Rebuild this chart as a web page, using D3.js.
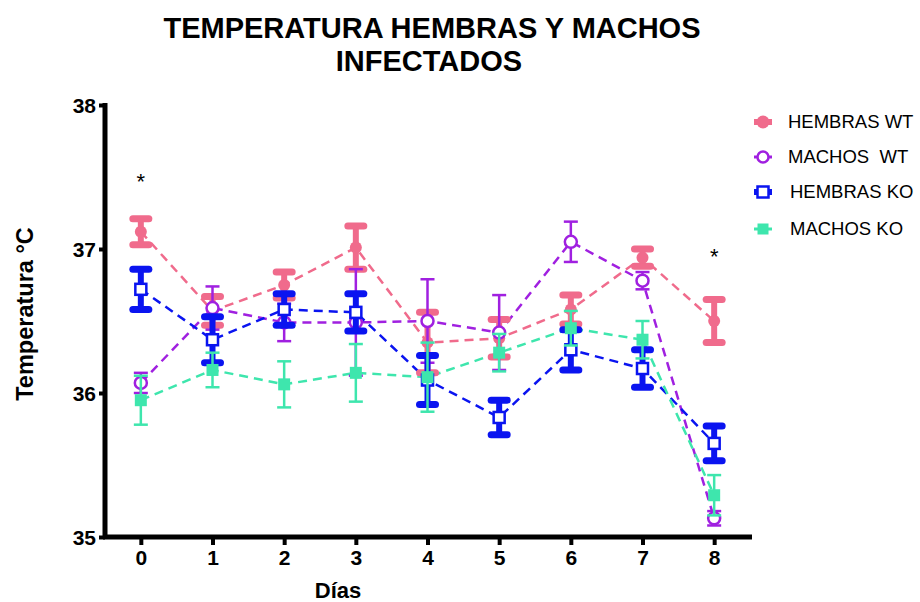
<!DOCTYPE html>
<html>
<head>
<meta charset="utf-8">
<script src="https://cdn.jsdelivr.net/npm/d3@7/dist/d3.min.js"></script>
<style>
body{margin:0;background:#fff;}
text{font-family:Arial,"Liberation Sans",sans-serif;}
</style>
</head>
<body>
<div id="chart"></div>
<script>
var svgW=920,svgH=602;
var dias=[0,1,2,3,4,5,6,7,8];
var yTicks=[35,36,37,38];
var seriesNames=["HEMBRAS WT","MACHOS  WT","HEMBRAS KO","MACHOS KO"];
var hembrasWT=[37.12,36.57,36.75,37.01,36.35,36.38,36.58,36.94,36.50];
var hembrasWTerr=[0.09,0.10,0.09,0.15,0.21,0.13,0.10,0.06,0.15];
var machosWT=[36.07,36.59,36.49,36.49,36.50,36.42,37.05,36.78,35.13];
var machosWTerr=[0.07,0.15,0.13,0.37,0.29,0.26,0.14,0.06,0.05];
var hembrasKO=[36.72,36.37,36.58,36.56,36.09,35.83,36.30,36.17,35.65];
var hembrasKOerr=[0.14,0.16,0.11,0.13,0.17,0.12,0.14,0.13,0.12];
var machosKO=[35.95,36.16,36.06,36.14,36.11,36.28,36.45,36.37,35.29];
var machosKOerr=[0.17,0.12,0.16,0.20,0.24,0.13,0.12,0.13,0.14];
var asteriscos=[[0,37.50],[8,36.98]];

var colores=["#f06b8c","#a020e0","#0a14f0","#3ee6ad"];
var series=[
    {name:seriesNames[0],vals:hembrasWT,err:hembrasWTerr,color:colores[0],shape:"circle",fill:true,thick:true},
    {name:seriesNames[1],vals:machosWT,err:machosWTerr,color:colores[1],shape:"circle",fill:false,thick:false},
    {name:seriesNames[2],vals:hembrasKO,err:hembrasKOerr,color:colores[2],shape:"square",fill:false,thick:true},
    {name:seriesNames[3],vals:machosKO,err:machosKOerr,color:colores[3],shape:"square",fill:true,thick:false}
];

var x=d3.scaleLinear().domain([-0.5,8.5]).range([105,750]);
var y=d3.scaleLinear().domain([35,38]).range([537,105]);

var svg=d3.select("#chart").append("svg")
    .attr("width",svgW).attr("height",svgH);

// title
svg.append("text").attr("x",432).attr("y",38).attr("text-anchor","middle")
    .style("font-size","29px").style("font-weight","bold").text("TEMPERATURA HEMBRAS Y MACHOS");
svg.append("text").attr("x",429).attr("y",71).attr("text-anchor","middle")
    .style("font-size","29px").style("font-weight","bold").text("INFECTADOS");

// axes
var yAxis=svg.append("g").attr("transform","translate(105,0)")
    .call(d3.axisLeft(y).tickValues(yTicks).tickFormat(d3.format("d")).tickSize(6).tickPadding(3));
var xAxis=svg.append("g").attr("transform","translate(0,537)")
    .call(d3.axisBottom(x).tickValues(dias).tickSize(8).tickPadding(5));
[yAxis,xAxis].forEach(function(a){
    a.select(".domain").attr("stroke","#000").attr("stroke-width",5);
    a.selectAll(".tick line").attr("stroke","#000").attr("stroke-width",4);
    a.selectAll(".tick text").attr("fill","#000").style("font-weight","bold")
        .style("font-family","'Liberation Sans Narrow',Arial,sans-serif");
});
yAxis.select(".domain").attr("d","M0,103V539");
xAxis.select(".domain").attr("d","M103,0H752");
yAxis.selectAll(".tick text").style("font-size","21px").attr("dy","0.35em");
xAxis.selectAll(".tick text").style("font-size","21px");

svg.append("text").attr("transform","translate(33,314) rotate(-90)").attr("text-anchor","middle")
    .style("font-size","23.5px").style("font-weight","bold").text("Temperatura °C");
svg.append("text").attr("x",338).attr("y",598).attr("text-anchor","middle")
    .style("font-size","22px").style("font-weight","bold")
    .style("font-family","'Liberation Sans Narrow',Arial,sans-serif").text("Días");

// dashed lines
var line=d3.line().x(function(d,i){return x(dias[i]);}).y(function(d){return y(d);});
series.forEach(function(s){
    svg.append("path").attr("d",line(s.vals)).attr("fill","none")
        .attr("stroke",s.color).attr("stroke-width",2.5).attr("stroke-dasharray","9,6");
});

// error bars and markers
series.forEach(function(s){
    var g=svg.append("g");
    var sw=s.thick?6:2.5, cw=s.thick?8:7;
    s.vals.forEach(function(v,i){
        var cx=x(dias[i]), t=y(v+s.err[i]), b=y(v-s.err[i]);
        g.append("line").attr("x1",cx).attr("x2",cx).attr("y1",t).attr("y2",b)
            .attr("stroke",s.color).attr("stroke-width",sw);
        [t,b].forEach(function(yy){
            g.append("line").attr("x1",cx-cw).attr("x2",cx+cw).attr("y1",yy).attr("y2",yy)
                .attr("stroke",s.color).attr("stroke-width",s.thick?7:2.5)
                .attr("stroke-linecap",s.thick?"round":"butt");
        });
        drawMarker(g,s,cx,y(v));
    });
});

function drawMarker(g,s,cx,cy){
    if(s.shape=="circle"){
        g.append("circle").attr("cx",cx).attr("cy",cy).attr("r",6)
            .attr("fill",s.fill?s.color:"#fff").attr("stroke",s.color).attr("stroke-width",s.fill?0:2.5);
    } else {
        var h=s.fill?6:5.5;
        g.append("rect").attr("x",cx-h).attr("y",cy-h).attr("width",h*2).attr("height",h*2)
            .attr("fill",s.fill?s.color:"#fff").attr("stroke",s.color).attr("stroke-width",s.fill?0:2.5);
    }
}

// asterisks
svg.selectAll(".ast").data(asteriscos).enter().append("text")
    .attr("x",function(d){return x(d[0]);}).attr("y",function(d){return y(d[1])+12;})
    .attr("text-anchor","middle").style("font-size","22px").text("*");

// legend
var legY=[122,157,192,229];
series.forEach(function(s,i){
    var lg=svg.append("g").attr("transform","translate(763,"+legY[i]+")");
    lg.append("line").attr("x1",-9).attr("x2",9).attr("stroke",s.color).attr("stroke-width",s.thick?6:3);
    if(s.shape=="circle"){
        lg.append("circle").attr("r",s.fill?6.5:5.5).attr("fill",s.fill?s.color:"#fff")
            .attr("stroke",s.color).attr("stroke-width",s.fill?0:2.5);
    } else {
        lg.append("rect").attr("x",-5.5).attr("y",-5.5).attr("width",11).attr("height",11)
            .attr("fill",s.fill?s.color:"#fff").attr("stroke",s.color).attr("stroke-width",s.fill?0:2.5);
    }
    lg.append("text").attr("x",i<2?25:27).attr("y",6).style("font-size","18.5px")
        .attr("xml:space","preserve").text(s.name);
});
</script>
</body>
</html>
